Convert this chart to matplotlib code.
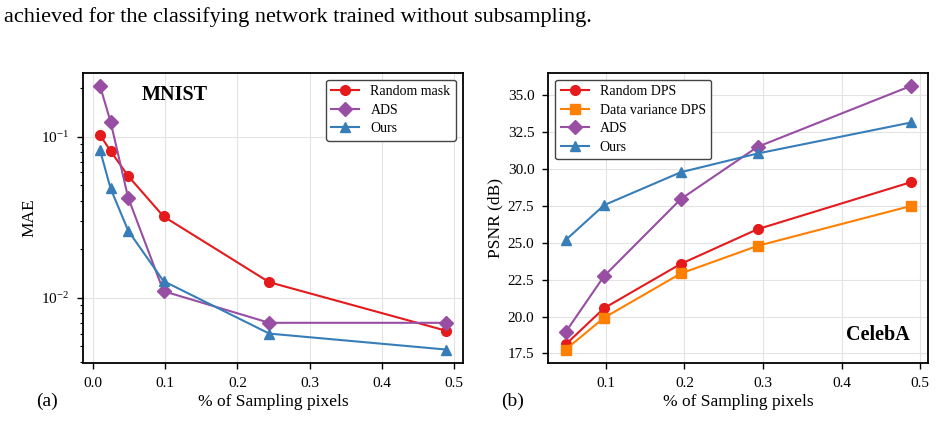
"""Sampling-ratio comparison: MNIST MAE and CelebA PSNR."""

import matplotlib
matplotlib.use("Agg")
import matplotlib.pyplot as plt

plt.rcParams["font.family"] = ["Liberation Serif", "DejaVu Serif"]
plt.rcParams["mathtext.fontset"] = "stix"

# MNIST (a)
mnist_x = [0.0098, 0.0244, 0.0488, 0.0977, 0.2441, 0.4883]
mnist_random = [0.1024, 0.0815, 0.0570, 0.0320, 0.0125, 0.00626]
mnist_ads = [0.2065, 0.124, 0.0418, 0.0110, 0.0070, 0.0070]
mnist_ours = [0.0826, 0.0478, 0.0261, 0.0127, 0.0060, 0.00478]

# CelebA (b)
celeba_x = [0.0488, 0.0977, 0.1953, 0.2930, 0.4883]
celeba_random = [18.11, 20.57, 23.57, 25.92, 29.11]
celeba_var = [17.77, 19.92, 22.92, 24.79, 27.50]
celeba_ads = [18.95, 22.74, 27.96, 31.50, 35.63]
celeba_ours = [25.18, 27.55, 29.78, 31.05, 33.15]

RED, ORANGE, PURPLE, BLUE = "#e41a1c", "#ff7f00", "#984ea3", "#377eb8"
FS = 11

fig = plt.figure(figsize=(9.42, 4.21), dpi=100)
ax1 = fig.add_axes([0.0878, 0.1385, 0.4037, 0.6888])
ax2 = fig.add_axes([0.5821, 0.1385, 0.4034, 0.6888])

kw = dict(linewidth=1.5, markersize=7)
ax1.plot(mnist_x, mnist_random, "-o", color=RED, label="Random mask", **kw)
ax1.plot(mnist_x, mnist_ads, "-D", color=PURPLE, label="ADS", **kw)
ax1.plot(mnist_x, mnist_ours, "-^", color=BLUE, label="Ours", **kw)
ax1.set_yscale("log")
ax1.set_ylabel("MAE", fontsize=12.5, labelpad=2)
ax1.text(0.243, 0.923, "MNIST", transform=ax1.transAxes, fontsize=14.5,
         fontweight="bold", ha="center", va="center")

ax2.plot(celeba_x, celeba_random, "-o", color=RED, label="Random DPS", **kw)
ax2.plot(celeba_x, celeba_var, "-s", color=ORANGE, label="Data variance DPS", **kw)
ax2.plot(celeba_x, celeba_ads, "-D", color=PURPLE, label="ADS", **kw)
ax2.plot(celeba_x, celeba_ours, "-^", color=BLUE, label="Ours", **kw)
ax2.set_ylabel("PSNR (dB)", fontsize=12.5, labelpad=3)
ax2.set_yticks([17.5, 20.0, 22.5, 25.0, 27.5, 30.0, 32.5, 35.0])
ax2.text(0.868, 0.094, "CelebA", transform=ax2.transAxes, fontsize=14.5,
         fontweight="bold", ha="center", va="center")

for ax, loc in ((ax1, "upper right"), (ax2, "upper left")):
    ax.set_xlabel("% of Sampling pixels", fontsize=12.5, labelpad=3)
    ax.tick_params(labelsize=FS, direction="out", length=4, width=1, pad=6)
    ax.tick_params(which="minor", length=2.5, width=0.8)
    ax.grid(True, color="#e3e3e3", linewidth=0.8)
    ax.set_axisbelow(True)
    for s in ax.spines.values():
        s.set_linewidth(1.3)
    leg = ax.legend(loc=loc, fontsize=10, fancybox=True, framealpha=1,
                    edgecolor="#444444", borderpad=0.4, handlelength=2.0,
                    labelspacing=0.4, handletextpad=0.8)
    leg.get_frame().set_linewidth(1.0)

ax1.set_xticks([0.0, 0.1, 0.2, 0.3, 0.4, 0.5])
ax2.set_xticks([0.1, 0.2, 0.3, 0.4, 0.5])

fig.text(0.0496, 0.0475, "(a)", fontsize=14, ha="center", va="center")
fig.text(0.544, 0.0475, "(b)", fontsize=14, ha="center", va="center")
fig.text(0.004, 0.948, "achieved for the classifying network trained without subsampling.",
         fontsize=16, ha="left", va="baseline")

fig.savefig("out.png", dpi=100)
